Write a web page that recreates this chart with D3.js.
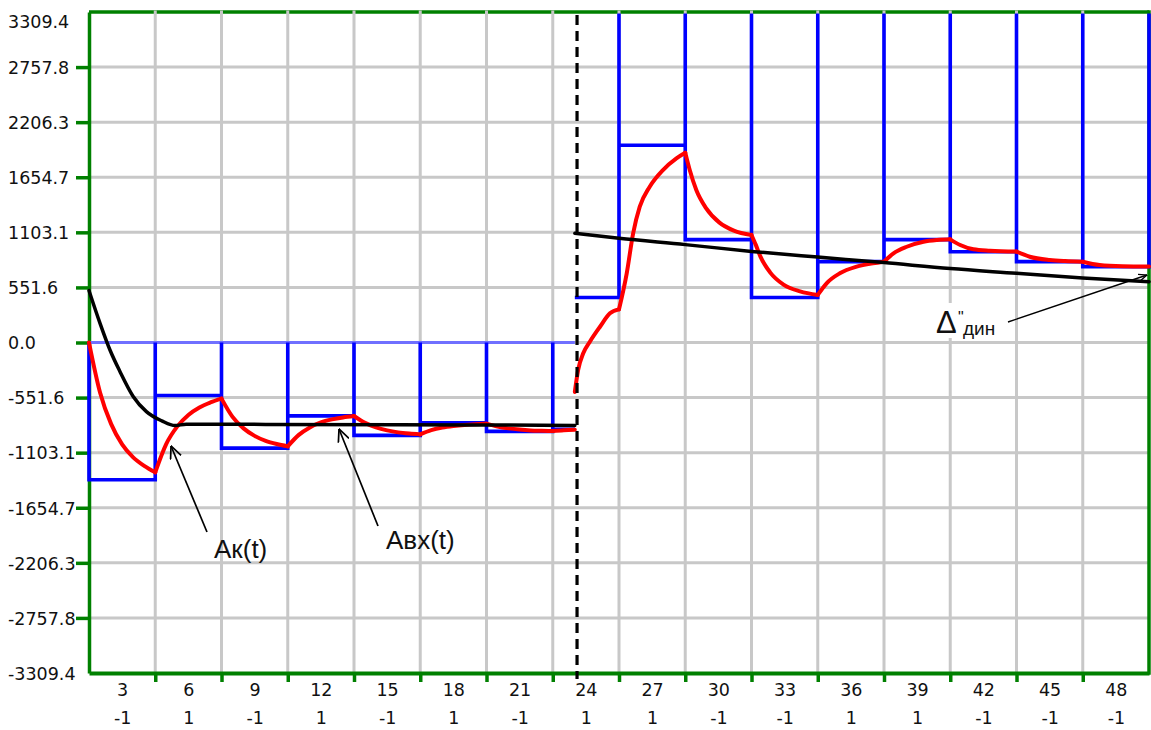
<!DOCTYPE html>
<html><head><meta charset="utf-8">
<script src="https://cdn.jsdelivr.net/npm/d3@7"></script>
<style>body{margin:0;background:#fff} svg{display:block;background:#fff}</style>
</head><body>
<svg id="chart" width="1151" height="730"></svg>
<script>
// ---------- data ----------
const yMax = 3309.4;
const yTickValues = [-3309.4,-2757.8,-2206.3,-1654.7,-1103.1,-551.6,0.0,551.6,1103.1,1654.7,2206.3,2757.8,3309.4];
const gridTimes = [3,6,9,12,15,18,21,24,27,30,33,36,39,42,45];
const cellLabels = [3,6,9,12,15,18,21,24,27,30,33,36,39,42,45,48];
const signLabels = ["-1","1","-1","1","-1","1","-1","1","1","-1","-1","1","1","-1","-1","-1"];

const switchTime = 22;
const dashTime = 22.1;

const phase1Starts = [0,3,6,9,12,15,18,21];
const phase1Ends   = [3,6,9,12,15,18,21,22];
const phase1Input  = [-1375,-530,-1058,-735,-930,-805,-890,-868];

const phase2Starts = [22,24,27,30,33,36,39,42,45];
const phase2Ends   = [24,27,30,33,36,39,42,45,48];
const phase2Input  = [450,1975,1030,450,810,1030,909,810,759];

const outputPhase1 = [
  [0,0],[0.5,-500],[1,-815],[1.5,-1020],[2,-1150],[2.5,-1235],[3,-1300],
  [3.5,-1015],[4,-840],[4.5,-725],[5,-650],[5.5,-600],[6,-562],
  [6.5,-745],[7,-860],[7.5,-935],[8,-985],[8.5,-1017],[9,-1040],
  [9.5,-925],[10,-850],[10.5,-800],[11,-770],[11.5,-750],[12,-736],
  [12.5,-805],[13,-850],[13.5,-880],[14,-900],[14.5,-912],[15,-920],
  [15.5,-878],[16,-852],[16.5,-836],[17,-825],[17.5,-818],[18,-813],
  [18.5,-842],[19,-860],[19.5,-872],[20,-880],[20.5,-884],[21,-887],
  [21.5,-878],[22,-873]
];
const outputPhase2 = [
  [22,-495],[22.15,-275],[22.38,-108],[22.68,8],[23.14,158],[23.59,292],[24,332],
  [24.35,693],[24.64,1093],[24.94,1360],[25.39,1560],[25.99,1727],[26.6,1844],[27,1900],
  [27.2,1730],[27.5,1527],[27.95,1343],[28.55,1200],[29.2,1120],[30,1077],
  [30.2,975],[30.4,862],[30.85,700],[31.45,580],[32.2,512],[33,476],
  [33.4,593],[34,693],[34.76,759],[35.5,793],[36,809],
  [36.43,893],[37.03,959],[37.79,1009],[38.4,1026],[39,1033],
  [39.45,976],[40.05,933],[40.8,919],[42,910],
  [42.6,859],[43.5,826],[44.2,815],[45,809],
  [45.76,776],[46.8,763],[48,760]
];
const trendPhase1 = [
  [0,520],[0.5,192],[0.95,-75],[1.4,-290],[2,-540],[2.6,-692],[3.3,-785],[3.9,-832],
  [4.4,-818],[8,-820],[14,-823],[22,-830]
];
const trendPhase2 = [
  [22,1093],[24,1043],[27,980],[30,912],[33,855],[36,800],[39,740],[42,693],[45,645],[48,609]
];

// ---------- layout ----------
const svg = d3.select("#chart");
const L = 89, R = 1149, T = 12, B = 673;
const x = d3.scaleLinear().domain([0,48]).range([L,R]);
const y = d3.scaleLinear().domain([-yMax,yMax]).range([B,T]);
const green = "#008000", grid = "#c8c8c8";
const axisFont = "'DejaVu Sans', Verdana, sans-serif";
const annFont = "'Liberation Sans', Arial, sans-serif";

svg.append("rect").attr("width",1151).attr("height",730).attr("fill","#fff");

const defs = svg.append("defs");
defs.append("clipPath").attr("id","plotClip").append("rect")
  .attr("x",L-2).attr("y",T+1.5).attr("width",R-L+4).attr("height",B-T+1);
defs.append("marker").attr("id","arrowBig").attr("viewBox","0 0 13 13")
  .attr("refX",12.5).attr("refY",6.5).attr("markerWidth",13).attr("markerHeight",13)
  .attr("markerUnits","userSpaceOnUse").attr("orient","auto")
  .append("path").attr("d","M0,0.8 L12.5,6.5 L0,12.2").attr("fill","none")
  .attr("stroke","#000").attr("stroke-width",1.7);
defs.append("marker").attr("id","arrowSmall").attr("viewBox","0 0 9 9")
  .attr("refX",8.5).attr("refY",4.5).attr("markerWidth",9).attr("markerHeight",9)
  .attr("markerUnits","userSpaceOnUse").attr("orient","auto")
  .append("path").attr("d","M0,1 L8.5,4.5 L0,8").attr("fill","none")
  .attr("stroke","#000").attr("stroke-width",1.3);

// top border
svg.append("line").attr("x1",L).attr("x2",R).attr("y1",T).attr("y2",T)
  .attr("stroke",green).attr("stroke-width",3.5);

// grid
const g = svg.append("g");
g.selectAll("line.h").data(yTickValues.slice(1,-1)).join("line")
  .attr("x1",L).attr("x2",R).attr("y1",d=>y(d)).attr("y2",d=>y(d))
  .attr("stroke",grid).attr("stroke-width",3);
g.selectAll("line.v").data(gridTimes).join("line")
  .attr("x1",d=>x(d)).attr("x2",d=>x(d)).attr("y1",T-1.5).attr("y2",B)
  .attr("stroke",grid).attr("stroke-width",3);

// right border
svg.append("line").attr("x1",R).attr("x2",R).attr("y1",T-1.75).attr("y2",B+1.75)
  .attr("stroke",green).attr("stroke-width",3.5);

// left axis
const yAxis = svg.append("g").attr("transform",`translate(${L},0)`)
  .call(d3.axisLeft(y).tickValues(yTickValues).tickSize(13).tickSizeOuter(0)
        .tickFormat(d=>(+d).toFixed(1)));
yAxis.select(".domain").attr("stroke",green).attr("stroke-width",3.5);
yAxis.selectAll(".tick line").attr("stroke",green).attr("stroke-width",3.5)
  .attr("opacity",d=>(Math.abs(d)===yMax)?0:1);
yAxis.selectAll(".tick text").attr("x",8-L).attr("text-anchor","start")
  .attr("dy","0.36em").attr("fill","#111")
  .attr("font-family",axisFont).attr("font-size",17.5)
  .attr("y",d=>d===yMax?9:0);

// bottom axis (ticks)
const xAxis = svg.append("g").attr("transform",`translate(0,${B})`)
  .call(d3.axisBottom(x).tickValues(gridTimes).tickSize(9).tickSizeOuter(0).tickFormat(""));
xAxis.select(".domain").attr("stroke",green).attr("stroke-width",4);
xAxis.selectAll(".tick line").attr("stroke",green).attr("stroke-width",3.5);

// bottom axis labels (two rows)
const centers = cellLabels.map(d=>d-1.5);
const row1 = svg.append("g").attr("transform",`translate(0,${B})`)
  .call(d3.axisBottom(x).tickValues(centers).tickSize(0).tickFormat((d,i)=>String(cellLabels[i])));
const row2 = svg.append("g").attr("transform",`translate(0,${B})`)
  .call(d3.axisBottom(x).tickValues(centers).tickSize(0).tickFormat((d,i)=>signLabels[i]));
[row1,row2].forEach((r,k)=>{
  r.select(".domain").remove();
  r.selectAll(".tick text").attr("y",k===0?17:45).attr("dy","0.36em")
    .attr("fill","#111").attr("font-family",axisFont).attr("font-size",17.5);
});

// ---------- data marks ----------
const plot = svg.append("g").attr("clip-path","url(#plotClip)");
const line = d3.line().x(d=>x(d[0])).y(d=>y(d[1]));

// zero base line of phase 1 (light blue)
plot.append("path").attr("d",line([[0,0],[switchTime,0]]))
  .attr("fill","none").attr("stroke","#7070ff").attr("stroke-width",3);

function stepPoints(starts, ends, vals, base, lead, trail){
  const pts = [];
  if(lead) pts.push([starts[0], base]);
  vals.forEach((v,i)=>{
    pts.push([starts[i], v]); pts.push([ends[i], v]);
    if(i < vals.length-1 || trail) pts.push([ends[i], base]);
  });
  return pts;
}
const blue1 = stepPoints(phase1Starts, phase1Ends, phase1Input, 0, true, false);
const blue2 = stepPoints(phase2Starts, phase2Ends, phase2Input, yMax*1.1, false, true);
[blue1, blue2].forEach(p=>{
  plot.append("path").attr("d",line(p)).attr("fill","none")
    .attr("stroke","#0000ff").attr("stroke-width",3.6).attr("stroke-linejoin","miter");
});

// red output, drawn segment by segment (kinks at switch times)
function splitAt(data, cuts){
  const segs = []; let cur = [];
  data.forEach(p=>{
    cur.push(p);
    if(cuts.includes(p[0]) && cur.length>1){ segs.push(cur); cur=[p]; }
  });
  if(cur.length>1) segs.push(cur);
  return segs;
}
const smooth = d3.line().x(d=>x(d[0])).y(d=>y(d[1])).curve(d3.curveMonotoneX);
const redSegs = splitAt(outputPhase1, phase1Ends).concat(splitAt(outputPhase2, phase2Ends));
plot.selectAll("path.red").data(redSegs).join("path").attr("class","red")
  .attr("d",smooth).attr("fill","none").attr("stroke","#ff0000")
  .attr("stroke-width",4).attr("stroke-linecap","round").attr("stroke-linejoin","round");

// black trend
[trendPhase1, trendPhase2].forEach(p=>{
  plot.append("path").attr("d",smooth(p)).attr("fill","none")
    .attr("stroke","#000").attr("stroke-width",3.5).attr("stroke-linecap","round");
});

// dashed switch line
svg.append("line").attr("x1",x(dashTime)).attr("x2",x(dashTime))
  .attr("y1",T+3).attr("y2",B+6).attr("stroke","#000").attr("stroke-width",3.2)
  .attr("stroke-dasharray","10,6");

// ---------- annotations ----------
svg.append("line").attr("x1",207).attr("y1",532).attr("x2",171).attr("y2",446)
  .attr("stroke","#000").attr("stroke-width",1.7).attr("marker-end","url(#arrowBig)");
svg.append("text").attr("x",214).attr("y",558).attr("font-family",annFont)
  .attr("font-size",26).attr("fill","#111").text("Ак(t)");

svg.append("line").attr("x1",378).attr("y1",526).attr("x2",339).attr("y2",429)
  .attr("stroke","#000").attr("stroke-width",1.7).attr("marker-end","url(#arrowBig)");
svg.append("text").attr("x",386).attr("y",549).attr("font-family",annFont)
  .attr("font-size",26).attr("fill","#111").text("Авх(t)");

svg.append("rect").attr("x",935).attr("y",303).attr("width",68).attr("height",35).attr("fill","#fff");
svg.append("line").attr("x1",1008).attr("y1",322).attr("x2",1147).attr("y2",275)
  .attr("stroke","#000").attr("stroke-width",1.4).attr("marker-end","url(#arrowSmall)");
svg.append("text").attr("x",936).attr("y",333).attr("font-family",annFont)
  .attr("font-size",31).attr("fill","#111").text("Δ");
svg.append("text").attr("x",958).attr("y",323).attr("font-family",annFont)
  .attr("font-size",16).attr("fill","#111").text("\"");
svg.append("text").attr("x",963).attr("y",335).attr("font-family",annFont)
  .attr("font-size",19).attr("fill","#111").text("дин");
</script>
</body></html>
